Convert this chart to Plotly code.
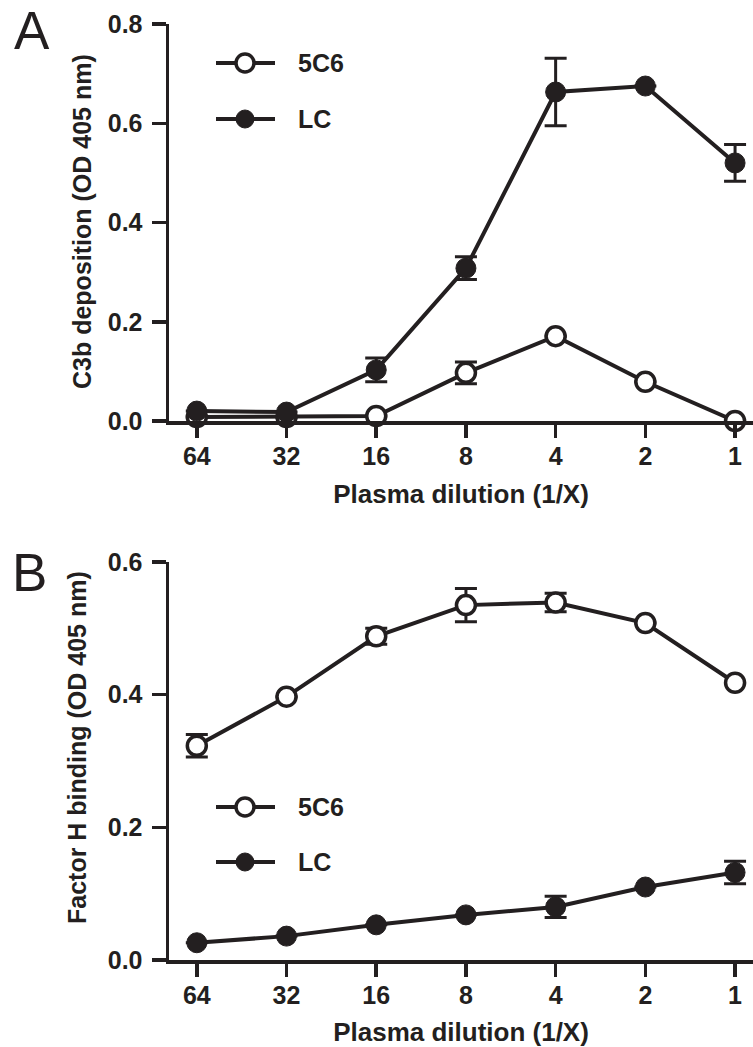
import plotly.graph_objects as go

# ---------------- data ----------------
dilutions = ["64", "32", "16", "8", "4", "2", "1"]

a_5c6 = [0.008, 0.008, 0.010, 0.097, 0.171, 0.079, 0.000]
a_5c6_err = [0.0, 0.0, 0.0, 0.022, 0.0, 0.0, 0.0]
a_lc = [0.020, 0.018, 0.103, 0.308, 0.663, 0.675, 0.520]
a_lc_err = [0.0, 0.0, 0.024, 0.023, 0.068, 0.0, 0.037]

b_5c6 = [0.323, 0.397, 0.488, 0.535, 0.539, 0.508, 0.418]
b_5c6_err = [0.017, 0.0, 0.012, 0.025, 0.014, 0.0, 0.0]
b_lc = [0.026, 0.036, 0.053, 0.068, 0.080, 0.110, 0.132]
b_lc_err = [0.0, 0.0, 0.0, 0.0, 0.016, 0.0, 0.017]

series_names = ["5C6", "LC"]
a_yticks = [0.0, 0.2, 0.4, 0.6, 0.8]
b_yticks = [0.0, 0.2, 0.4, 0.6]
x_title = "Plasma dilution (1/X)"
a_ytitle = "C3b deposition (OD 405 nm)"
b_ytitle = "Factor H binding (OD 405 nm)"

# ---------------- style ----------------
W, H = 753, 1047
INK = "#231f20"
FONT = "Liberation Sans, Arial, sans-serif"


def px(x):
    return x / W


def py(y):
    return 1 - y / H


fig = go.Figure()


def add_series(y, err, xa, ya, filled):
    fig.add_trace(go.Scatter(
        x=dilutions, y=y, xaxis=xa, yaxis=ya, mode="lines+markers",
        line=dict(color=INK, width=4),
        marker=dict(size=20 if filled else 19, symbol="circle",
                    color=INK if filled else "white",
                    line=dict(color=INK, width=1 if filled else 3.5)),
        error_y=dict(type="data", array=err, visible=True, color=INK,
                     thickness=3, width=11),
        cliponaxis=False, showlegend=False, hoverinfo="skip",
    ))


add_series(a_5c6, a_5c6_err, "x", "y", False)
add_series(a_lc, a_lc_err, "x", "y", True)
add_series(b_5c6, b_5c6_err, "x2", "y2", False)
add_series(b_lc, b_lc_err, "x2", "y2", True)

# axes geometry (pixels)
x_left = 169
a_top, a_bot = 24, 421
b_top, b_bot = 562, 960

tickfont = dict(family=FONT, size=25, color=INK, weight="bold")
titlefont = dict(family=FONT, size=26, color=INK, weight="bold")
ytitlefont = dict(family=FONT, size=25, color=INK, weight="bold")

common_x = dict(
    type="category", range=[-0.31, 6.2], showline=True, linewidth=3.5,
    linecolor=INK, ticks="outside", ticklen=13, tickwidth=3.5, tickcolor=INK,
    tickfont=tickfont, showgrid=False, zeroline=False, ticklabelstandoff=-3,
    title=dict(text=x_title, font=titlefont, standoff=17),
    domain=[px(x_left), 1.0], automargin=False,
)
common_y = dict(
    showline=True, linewidth=3.5, linecolor=INK, ticks="outside", ticklen=14,
    tickwidth=3.5, tickcolor=INK, tickfont=tickfont, showgrid=False,
    zeroline=False, tickformat=".1f", ticklabelstandoff=4, automargin=False,
)

fig.update_layout(
    width=W, height=H, margin=dict(l=0, r=0, t=0, b=0),
    plot_bgcolor="white", paper_bgcolor="white",
    xaxis=dict(**common_x, anchor="y"),
    yaxis=dict(**common_y, range=[0, 0.8], tickvals=a_yticks,
               domain=[py(a_bot), py(a_top)], anchor="x"),
    xaxis2=dict(**common_x, anchor="y2"),
    yaxis2=dict(**common_y, range=[0, 0.6], tickvals=b_yticks,
                domain=[py(b_bot), py(b_top)], anchor="x2"),
    showlegend=False,
)

# y-axis titles
fig.add_annotation(text=a_ytitle, x=px(82), y=py(222), xref="paper",
                   yref="paper", xanchor="center", yanchor="middle",
                   textangle=-90, showarrow=False, font=ytitlefont)
fig.add_annotation(text=b_ytitle, x=px(77), y=py(748), xref="paper",
                   yref="paper", xanchor="center", yanchor="middle",
                   textangle=-90, showarrow=False, font=ytitlefont)

# panel letters
fig.add_annotation(text="A", x=px(12), y=py(30), xref="paper", yref="paper",
                   xanchor="left", yanchor="middle", showarrow=False,
                   font=dict(family=FONT, size=53, color=INK))
fig.add_annotation(text="B", x=px(10), y=py(572), xref="paper", yref="paper",
                   xanchor="left", yanchor="middle", showarrow=False,
                   font=dict(family=FONT, size=53, color=INK))

# manual legends (line sample + marker + label)
legend_rows = [(63, 119), (807, 862)]
for rows in legend_rows:
    for name, yy in zip(series_names, rows):
        filled = name == "LC"
        fig.add_shape(type="line", xref="paper", yref="paper",
                      x0=px(216), x1=px(275), y0=py(yy), y1=py(yy),
                      line=dict(color=INK, width=4))
        r = 9
        fig.add_shape(type="circle", xref="paper", yref="paper",
                      x0=px(245 - r), x1=px(245 + r), y0=py(yy + r), y1=py(yy - r),
                      fillcolor=INK if filled else "white",
                      line=dict(color=INK, width=1 if filled else 3.5))
        fig.add_annotation(text=name, x=px(296), y=py(yy), xref="paper",
                           yref="paper", xanchor="left", yanchor="middle",
                           showarrow=False,
                           font=dict(family=FONT, size=25, color=INK,
                                     weight="bold"))

fig.write_html("out.html",
               config={"displayModeBar": False, "staticPlot": True},
               post_script="document.body.style.margin='0px';"
                           "document.body.style.overflow='hidden';")
